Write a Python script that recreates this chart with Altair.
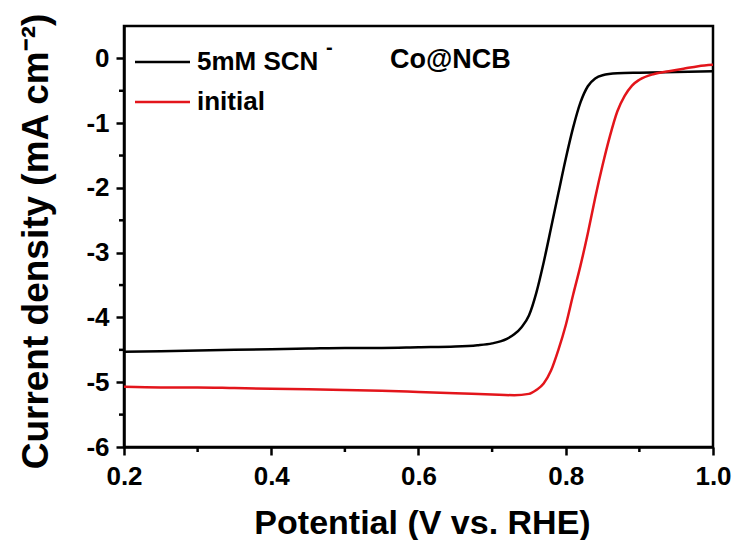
import altair as alt
import pandas as pd

# ---- data ----
scn_v = [0.20, 0.25, 0.30, 0.35, 0.40, 0.45, 0.50, 0.55, 0.60, 0.65, 0.68, 0.70, 0.72, 0.73,
         0.74, 0.75, 0.76, 0.77, 0.78, 0.79, 0.80, 0.81, 0.82, 0.83, 0.84, 0.85, 0.87, 0.90,
         0.95, 1.00]
scn_j = [-4.53, -4.52, -4.51, -4.50, -4.49, -4.48, -4.47, -4.47, -4.46, -4.45, -4.43, -4.40,
         -4.33, -4.26, -4.15, -3.97, -3.62, -3.15, -2.62, -2.08, -1.55, -1.07, -0.68, -0.43,
         -0.31, -0.26, -0.23, -0.22, -0.21, -0.20]

ini_v = [0.20, 0.25, 0.30, 0.35, 0.40, 0.45, 0.50, 0.55, 0.60, 0.65, 0.70, 0.73, 0.75, 0.76,
         0.77, 0.78, 0.79, 0.80, 0.81, 0.82, 0.83, 0.84, 0.85, 0.86, 0.87, 0.88, 0.89, 0.90,
         0.92, 0.94, 0.96, 0.98, 1.00]
ini_j = [-5.07, -5.08, -5.08, -5.09, -5.10, -5.11, -5.12, -5.13, -5.15, -5.17, -5.19, -5.20,
         -5.18, -5.12, -5.02, -4.82, -4.50, -4.12, -3.65, -3.20, -2.70, -2.15, -1.65, -1.20,
         -0.82, -0.58, -0.42, -0.33, -0.24, -0.20, -0.16, -0.12, -0.10]

series_names = ["5mM SCN-", "initial"]
series_colors = ["#000000", "#e3151b"]

x_major = [0.2, 0.4, 0.6, 0.8, 1.0]
x_minor = [0.3, 0.5, 0.7, 0.9]
y_major = [-6, -5, -4, -3, -2, -1, 0]
y_minor = [-5.5, -4.5, -3.5, -2.5, -1.5, -0.5]

FONT = "Liberation Sans"
W, H = 589, 421

df = pd.concat([
    pd.DataFrame({"V": scn_v, "J": scn_j, "s": series_names[0]}),
    pd.DataFrame({"V": ini_v, "J": ini_j, "s": series_names[1]}),
])

xs = alt.Scale(domain=[0.2, 1.0], nice=False, zero=False)
ys = alt.Scale(domain=[-6, 0.5], nice=False, zero=False)

xaxis = alt.Axis(values=x_major, labelExpr="format(datum.value, '.1f')", grid=False,
                 tickSize=8, tickWidth=2.5, domainWidth=2.5, domainColor="black", tickColor="black",
                 labelFont=FONT, labelFontSize=26, labelFontWeight="bold", labelColor="black",
                 labelPadding=8, title="Potential (V vs. RHE)", titleFont=FONT, titleFontSize=34,
                 titleFontWeight="bold", titleColor="black", titleX=298, titleY=86,
                 titleBaseline="alphabetic", labelFlush=False)
yaxis = alt.Axis(values=y_major, labelExpr="'' + datum.value", grid=False,
                 tickSize=8, tickWidth=2.5, domainWidth=2.5, domainColor="black", tickColor="black",
                 labelFont=FONT, labelFontSize=26, labelFontWeight="bold", labelColor="black",
                 labelPadding=7, title="Current density (mA cm⁻²)", titleFont=FONT,
                 titleFontSize=37, titleFontWeight="bold", titleColor="black",
                 titleX=-77, titleY=215, titleAngle=270, titleAlign="center",
                 titleBaseline="alphabetic", labelFlush=False)

lines = alt.Chart(df).mark_line(strokeWidth=2.5, interpolate="monotone").encode(
    x=alt.X("V:Q", scale=xs, axis=xaxis),
    y=alt.Y("J:Q", scale=ys, axis=yaxis),
    color=alt.Color("s:N", scale=alt.Scale(domain=series_names, range=series_colors), legend=None),
    detail="s:N",
)

xminor = alt.Chart(pd.DataFrame({"V": x_minor})).mark_rule(color="black", strokeWidth=2.5).encode(
    x=alt.X("V:Q", scale=xs), y=alt.value(H), y2=alt.value(H + 5))
yminor = alt.Chart(pd.DataFrame({"J": y_minor})).mark_rule(color="black", strokeWidth=2.5).encode(
    y=alt.Y("J:Q", scale=ys), x=alt.value(0), x2=alt.value(-5))

leg = pd.DataFrame({"s": series_names, "label": ["5mM SCN", "initial"], "yy": [36, 76]})
leg_lines = alt.Chart(leg).mark_rule(strokeWidth=2.5).encode(
    x=alt.value(11), x2=alt.value(66), y=alt.Y("yy:Q", scale=None),
    color=alt.Color("s:N", scale=alt.Scale(domain=series_names, range=series_colors), legend=None))
leg_text = alt.Chart(leg).mark_text(align="left", baseline="middle", font=FONT, fontSize=26,
                                    fontWeight="bold", color="black").encode(
    x=alt.value(73), y=alt.Y("yy:Q", scale=None), text="label:N")
sup = alt.Chart(pd.DataFrame({"t": ["-"]})).mark_text(
    align="left", baseline="middle", font=FONT, fontSize=20, fontWeight="bold", color="black"
).encode(x=alt.value(202), y=alt.value(22), text="t:N")
title_txt = alt.Chart(pd.DataFrame({"t": ["Co@NCB"]})).mark_text(
    align="left", baseline="middle", font=FONT, fontSize=27, fontWeight="bold", color="black"
).encode(x=alt.value(266), y=alt.value(34), text="t:N")

chart = alt.layer(lines, xminor, yminor, leg_lines, leg_text, sup, title_txt).properties(
    width=W, height=H,
    autosize=alt.AutoSizeParams(type="none"),
    padding={"left": 124, "top": 26, "right": 22, "bottom": 93},
    background="white",
).configure_view(stroke="black", strokeWidth=2.5)

chart.save("out.html", embed_options={"renderer": "svg", "actions": False})
